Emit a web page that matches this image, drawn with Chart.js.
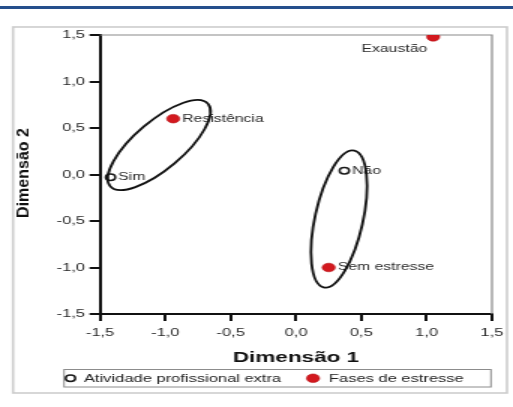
<!DOCTYPE html>
<html>
<head>
<meta charset="utf-8">
<script src="https://cdn.jsdelivr.net/npm/chart.js@4/dist/chart.umd.min.js"></script>
<style>
  html, body { margin: 0; padding: 0; background: #fff; }
  canvas { display: block; }
</style>
</head>
<body>
<!-- the drawing surface is laid out narrow and shown 1.5x wider, giving the wide lettering of the map -->
<canvas id="map" width="342" height="407" style="width:513px;height:407px"></canvas>
<script>
// ---- data -------------------------------------------------------------
const seriesNames = ['Atividade profissional extra', 'Fases de estresse'];

const activityLabels = ['Sim', 'Não'];
const activityDim1 = [-1.42, 0.37];
const activityDim2 = [-0.03, 0.04];

const phaseLabels = ['Exaustão', 'Resistência', 'Sem estresse'];
const phaseDim1 = [1.05, -0.94, 0.25];
const phaseDim2 = [1.48, 0.60, -1.00];

const axisTicks = [-1.5, -1.0, -0.5, 0.0, 0.5, 1.0, 1.5];
const axisTitles = ['Dimensão 1', 'Dimensão 2'];

// circled groupings: centre and two conjugate semi-axes, in dimension units
const groupCentres = [[-1.048, 0.317], [0.329, -0.478]];
const groupAxisA = [[0.375, 0.442], [0.118, 0.735]];
const groupAxisB = [[0.118, -0.198], [0.179, -0.057]];

// ---- drawing setup ----------------------------------------------------
const SX = 1.5;                       // horizontal display stretch of the canvas
const FONT = "'Liberation Sans', Arial, sans-serif";
const RED = '#d3191f';

const toPoints = (xs, ys) => xs.map((x, i) => ({ x: x, y: ys[i] }));
const fmt = v => Number(v).toFixed(1).replace('.', ',');

// label placement next to each marker (canvas px)
const labelAt = {
  'Exaustão':     { align: 'right', dx: -4,  dy: 12.5 },
  'Resistência':  { align: 'left',  dx: 6,   dy: 0 },
  'Sem estresse': { align: 'left',  dx: 6,   dy: 0 },
  'Sim':          { align: 'left',  dx: 5.2, dy: 0 },
  'Não':          { align: 'left',  dx: 5.2, dy: 0 }
};

const decor = {
  id: 'decor',
  beforeDraw(chart) {
    const { ctx, width, height } = chart;
    ctx.save();
    ctx.fillStyle = '#fff';
    ctx.fillRect(0, 0, width, height);
    // rule across the top of the page
    ctx.fillStyle = '#254f8c';
    ctx.fillRect(0, 6, width, 3);
    // outer frame of the figure
    ctx.strokeStyle = '#cdcdcd';
    ctx.lineWidth = 1.6;
    ctx.strokeRect(8.7, 27, 329.3, 366);
    ctx.restore();
  },
  beforeDatasetsDraw(chart) {
    const { ctx, chartArea: a } = chart;
    ctx.save();
    ctx.strokeStyle = '#8a8a8a';
    ctx.lineWidth = 1.2;
    ctx.beginPath();
    ctx.moveTo(a.left, a.top);
    ctx.lineTo(a.right, a.top);
    ctx.lineTo(a.right, a.bottom);
    ctx.stroke();
    ctx.restore();
  },
  afterDatasetsDraw(chart) {
    const { ctx } = chart;
    const xs = chart.scales.x, ys = chart.scales.y;
    ctx.save();
    // point labels
    ctx.font = '10.5px ' + FONT;
    ctx.fillStyle = '#2a2a2a';
    ctx.textBaseline = 'middle';
    chart.data.datasets.forEach((ds, di) => {
      chart.getDatasetMeta(di).data.forEach((el, j) => {
        const name = ds.pointNames[j];
        const p = labelAt[name];
        ctx.textAlign = p.align;
        ctx.fillText(name, el.x + p.dx, el.y + p.dy);
      });
    });
    // ellipses around the associated categories
    ctx.strokeStyle = '#111';
    ctx.lineWidth = 1.8;
    groupCentres.forEach((c, k) => {
      const cx = xs.getPixelForValue(c[0]);
      const cy = ys.getPixelForValue(c[1]);
      const ax = xs.getPixelForValue(c[0] + groupAxisA[k][0]) - cx;
      const ay = ys.getPixelForValue(c[1] + groupAxisA[k][1]) - cy;
      const bx = xs.getPixelForValue(c[0] + groupAxisB[k][0]) - cx;
      const by = ys.getPixelForValue(c[1] + groupAxisB[k][1]) - cy;
      ctx.save();
      ctx.beginPath();
      ctx.transform(ax, ay, bx, by, cx, cy);
      ctx.arc(0, 0, 1, 0, Math.PI * 2);
      ctx.restore();
      ctx.stroke();
    });
    ctx.restore();
  },
  afterDraw(chart) {
    const { ctx, chartArea: a } = chart;
    ctx.save();
    ctx.fillStyle = '#111';
    ctx.textAlign = 'center';
    ctx.textBaseline = 'middle';
    // x axis title
    ctx.font = 'bold 15px ' + FONT;
    ctx.fillText(axisTitles[0], (a.left + a.right) / 2, 358);
    // y axis title, kept at its natural width on screen
    ctx.save();
    ctx.translate(16, 173);
    ctx.scale(1 / SX, 1);
    ctx.rotate(-Math.PI / 2);
    ctx.font = 'bold 16px ' + FONT;
    ctx.fillText(axisTitles[1], 0, 0);
    ctx.restore();

    // legend box
    const box = { x: 42.7, y: 369.5, w: 284.6, h: 17.5 };
    ctx.strokeStyle = '#8c8c8c';
    ctx.lineWidth = 1;
    ctx.strokeRect(box.x, box.y, box.w, box.h);
    const symX = [47, 208.7];
    const txtX = [56, 219.3];
    const ly = box.y + box.h / 2;
    ctx.font = '11px ' + FONT;
    ctx.textAlign = 'left';
    chart.data.datasets.forEach((ds, i) => {
      ctx.beginPath();
      ctx.arc(symX[i], ly, ds.pointRadius, 0, Math.PI * 2);
      ctx.fillStyle = ds.pointBackgroundColor;
      ctx.fill();
      ctx.lineWidth = ds.pointBorderWidth;
      ctx.strokeStyle = ds.pointBorderColor;
      ctx.stroke();
      ctx.fillStyle = '#222';
      ctx.fillText(ds.label, txtX[i], ly + 0.5);
    });
    ctx.restore();
  }
};

const axisCommon = {
  type: 'linear',
  min: -1.5,
  max: 1.5,
  afterBuildTicks: s => { s.ticks = axisTicks.map(v => ({ value: v })); },
  grid: { drawOnChartArea: false, drawTicks: true, tickLength: 7, lineWidth: 2, color: '#111' },
  border: { display: true, color: '#111', width: 2 }
};

new Chart(document.getElementById('map'), {
  type: 'scatter',
  data: {
    datasets: [
      {
        label: seriesNames[0],
        pointNames: activityLabels,
        data: toPoints(activityDim1, activityDim2),
        pointStyle: 'circle',
        pointRadius: 3.2,
        pointBackgroundColor: '#fff',
        pointBorderColor: '#1a1a1a',
        pointBorderWidth: 1.5
      },
      {
        label: seriesNames[1],
        pointNames: phaseLabels,
        data: toPoints(phaseDim1, phaseDim2),
        pointStyle: 'circle',
        pointRadius: 4.3,
        pointBackgroundColor: RED,
        pointBorderColor: '#b81218',
        pointBorderWidth: 0.6
      }
    ]
  },
  options: {
    responsive: false,
    animation: false,
    devicePixelRatio: 1,
    layout: { padding: { left: 0, right: 14, top: 35, bottom: 0 } },
    plugins: { legend: { display: false }, tooltip: { enabled: false } },
    scales: {
      x: Object.assign({}, axisCommon, {
        position: 'bottom',
        afterFit: s => { s.height = 93; },
        ticks: { font: { family: FONT, size: 11 }, color: '#2a2a2a', padding: 5,
                 maxRotation: 0, autoSkip: false, callback: fmt }
      }),
      y: Object.assign({}, axisCommon, {
        position: 'left',
        afterFit: s => { s.width = 66.7; },
        ticks: { font: { family: FONT, size: 11 }, color: '#2a2a2a', padding: 3,
                 autoSkip: false, callback: fmt }
      })
    }
  },
  plugins: [decor]
});
</script>
</body>
</html>
